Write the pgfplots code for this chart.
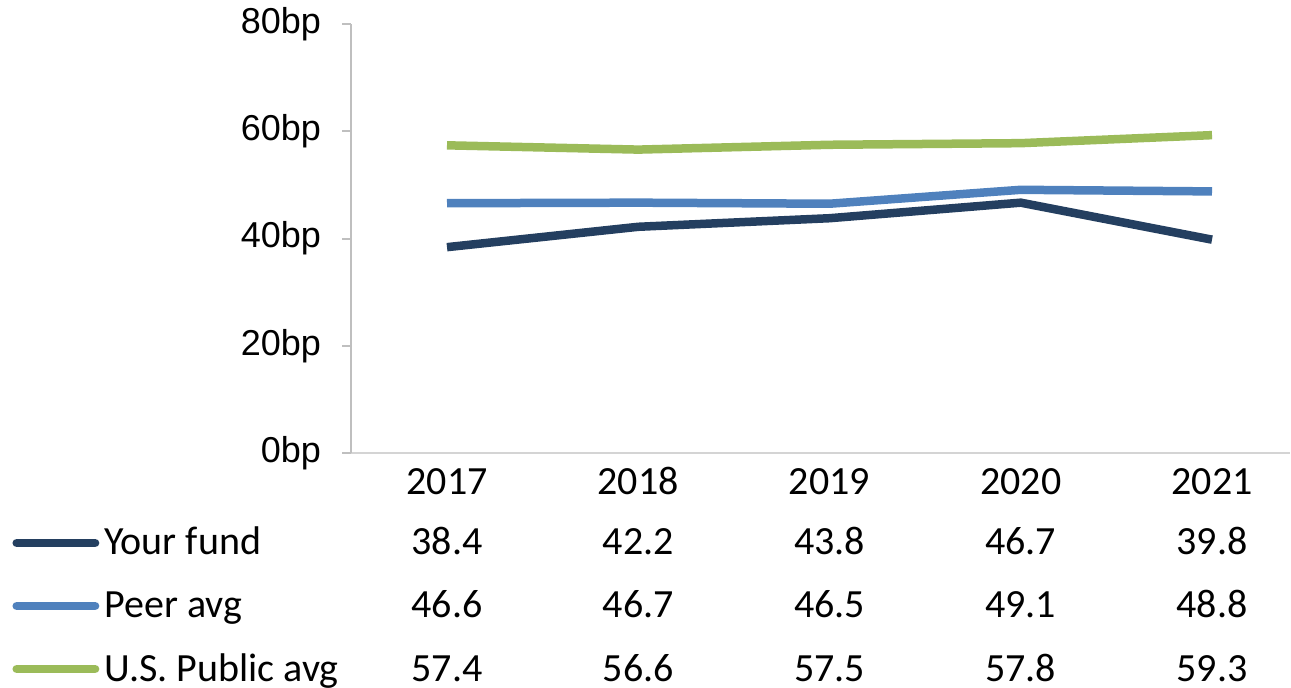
\documentclass[border=0pt]{standalone}
\usepackage{fontspec}
\setmainfont{Carlito}
\newfontfamily\arialf{Liberation Sans}
\usepackage{pgfplots}
\usepackage{pgfplotstable}
\pgfplotsset{compat=1.18}
\definecolor{fundc}{HTML}{243F60}
\definecolor{peerc}{HTML}{4F81BD}
\definecolor{pubc}{HTML}{9BBB59}
\definecolor{axgray}{HTML}{BFBFBF}
\definecolor{xgray}{HTML}{D4D4D4}
\pgfplotstableread{
x fund peer public
0 38.4 46.6 57.4
1 42.2 46.7 56.6
2 43.8 46.5 57.5
3 46.7 49.1 57.8
4 39.8 48.8 59.3
}\data
\begin{document}
\begin{tikzpicture}
\useasboundingbox (-175.69pt,-117.5pt) rectangle (469.81pt,226.5pt);
\begin{axis}[
  at={(0,0)}, anchor=south west,
  x=95.625pt, y=2.68pt,
  xmin=-0.5, xmax=4.41, ymin=0, ymax=80,
  clip=false,
  axis x line*=bottom, axis y line*=left,
  x axis line style={xgray, line width=1.4pt},
  y axis line style={axgray, line width=1pt},
  xtick={0,1,2,3,4},
  xticklabels={2017,2018,2019,2020,2021},
  ytick={0,20,40,60,80},
  yticklabels={0bp,20bp,40bp,60bp,80bp},
  tick align=outside, major tick length=4.5pt,
  xtick style={draw=none},
  ytick style={axgray, line width=1pt},
  xticklabel style={font=\fontsize{20}{24}\selectfont, anchor=base, inner sep=0pt, yshift=-16.5pt},
  yticklabel style={font=\arialf\fontsize{18}{22}\selectfont, anchor=east, inner sep=0pt, xshift=-10.5pt},
  every node near coord/.style={anchor=base, inner sep=0pt, font=\fontsize{20}{24}\selectfont, black},
]
\addplot[fundc, line width=4.25pt, line join=round, no markers] table[x=x, y=fund] {\data};
\addplot[peerc, line width=4.25pt, line join=round, no markers] table[x=x, y=peer] {\data};
\addplot[pubc, line width=4.25pt, line join=round, no markers] table[x=x, y=public] {\data};
% table rows below the chart
\addplot[draw=none, no markers, forget plot, nodes near coords, point meta=explicit symbolic] table[x=x, y expr=-19.03, meta=fund] {\data};
\addplot[draw=none, no markers, forget plot, nodes near coords, point meta=explicit symbolic] table[x=x, y expr=-30.78, meta=peer] {\data};
\addplot[draw=none, no markers, forget plot, nodes near coords, point meta=explicit symbolic] table[x=x, y expr=-42.54, meta=public] {\data};
% legend keys
\draw[fundc, line width=4.25pt, line cap=round] (axis cs:-2.25,-16.79) -- (axis cs:-1.84,-16.79);
\draw[peerc, line width=4.25pt, line cap=round] (axis cs:-2.25,-28.54) -- (axis cs:-1.84,-28.54);
\draw[pubc, line width=4.25pt, line cap=round] (axis cs:-2.25,-40.30) -- (axis cs:-1.84,-40.30);
\node[anchor=base west, inner sep=0pt, font=\fontsize{20}{24}\selectfont] at (axis cs:-1.7935,-19.03) {Your fund};
\node[anchor=base west, inner sep=0pt, font=\fontsize{20}{24}\selectfont] at (axis cs:-1.7935,-30.78) {Peer avg};
\node[anchor=base west, inner sep=0pt, font=\fontsize{20}{24}\selectfont] at (axis cs:-1.7935,-42.54) {U.S. Public avg};
\end{axis}
\end{tikzpicture}
\end{document}
